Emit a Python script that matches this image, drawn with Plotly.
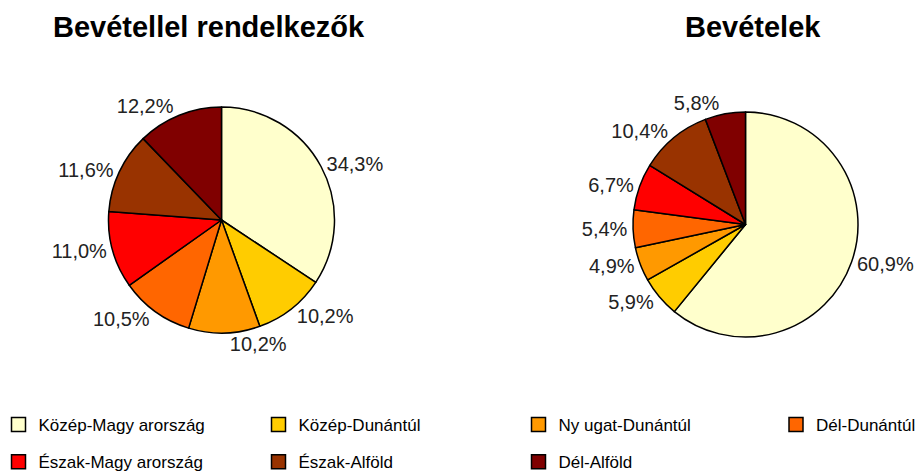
import plotly.graph_objects as go

regions = ["Közép-Magy arország", "Közép-Dunántúl", "Ny ugat-Dunántúl", "Dél-Dunántúl",
           "Észak-Magy arország", "Észak-Alföld", "Dél-Alföld"]
colors = ["#FFFFCC", "#FFCC00", "#FF9900", "#FF6600", "#FF0000", "#993300", "#800000"]
share_earners = [34.3, 10.2, 10.2, 10.5, 11.0, 11.6, 12.2]
share_income = [60.9, 5.9, 4.9, 5.4, 6.7, 10.4, 5.8]
titles = ["Bevétellel rendelkezők", "Bevételek"]

W, H = 917, 472
FONT = "Liberation Sans, Arial"

def fmt(v):
    return f"{v:.1f}".replace(".", ",") + "%"

def dom(cx, cy, r):
    return dict(x=[(cx - r) / W, (cx + r) / W], y=[1 - (cy + r) / H, 1 - (cy - r) / H])

fig = go.Figure()
for vals, d in [(share_earners, dom(221.5, 220, 113)), (share_income, dom(745.5, 224.5, 112.5))]:
    fig.add_trace(go.Pie(
        labels=regions, values=vals, text=[fmt(v) for v in vals],
        texttemplate="%{text}", textposition="outside", textinfo="text",
        sort=False, direction="clockwise", rotation=0, showlegend=False,
        marker=dict(colors=colors, line=dict(color="black", width=1.5)),
        outsidetextfont=dict(family=FONT, size=20, color="#222222"),
        domain=d, hoverinfo="label+text",
    ))

# legend: 4 columns x 2 rows, filled row-wise
col_x = [-1.5, 258.5, 518.5, 776]
legend_names = ["legend", "legend2", "legend3", "legend4"]
for i, (name, c) in enumerate(zip(regions, colors)):
    col = i % 4
    fig.add_trace(go.Scatter(
        x=[None], y=[None], mode="markers", name=name,
        marker=dict(symbol="square", size=14, color=c, line=dict(color="black", width=1.5)),
        legend=legend_names[col], legendgroup=name, showlegend=True, hoverinfo="skip",
    ))

leg_common = dict(orientation="v", yanchor="top", xanchor="left", bgcolor="rgba(0,0,0,0)",
                  tracegroupgap=12, font=dict(family=FONT, size=17, color="black"))
layout_legs = {}
for col, nm in enumerate(legend_names):
    layout_legs[nm] = dict(x=col_x[col] / W, y=1 - 407 / H, **leg_common)

for t, x in zip(titles, [209, 753]):
    fig.add_annotation(text=f"<b>{t}</b>", x=x / W, y=1 - 26.5 / H, xref="paper", yref="paper",
                       showarrow=False, font=dict(family=FONT, size=29, color="black"),
                       xanchor="center", yanchor="middle")

fig.update_layout(
    width=W, height=H, margin=dict(l=0, r=0, t=0, b=0, autoexpand=False),
    paper_bgcolor="white", plot_bgcolor="white",
    font=dict(family=FONT, size=17, color="black"),
    xaxis=dict(visible=False), yaxis=dict(visible=False),
    **layout_legs,
)
fig.write_html("out.html", config={"displayModeBar": False},
               post_script="document.body.style.margin='0';document.body.style.overflow='hidden';")
